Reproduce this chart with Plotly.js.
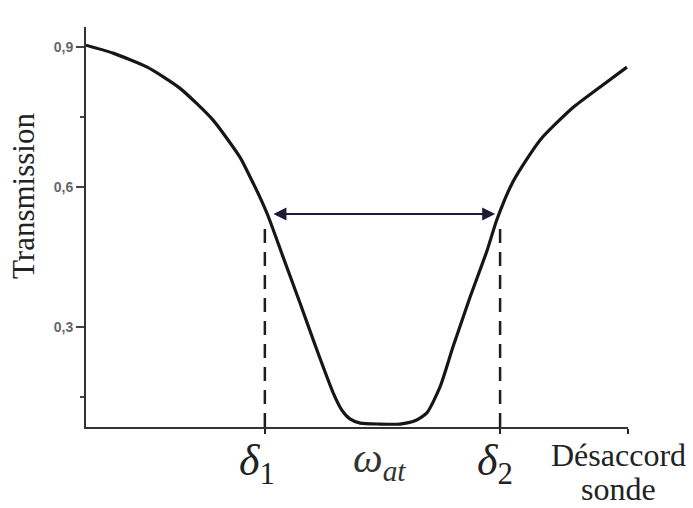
<!DOCTYPE html>
<html>
<head>
<meta charset="utf-8">
<script src="https://cdn.plot.ly/plotly-3.0.1.min.js"></script>
<style>
  body { margin: 0; background: #fff; }
  #chart { width: 693px; height: 508px; }
</style>
</head>
<body>
<div id="chart"></div>
<script>
// probe detuning (arbitrary units) and measured transmission
const detuning = [0, 5.0, 11.3, 17.3, 23.4, 28.4, 30.3, 32.1, 33.6, 36.3, 39.5, 42.4, 45.6, 47.2, 48.7,
  50.6, 54.2, 57.9, 60.7, 62.9, 65.3, 67.7, 70.8, 74.0, 75.8, 78.8, 83.8, 89.9, 94.8, 99.8];
const transmission = [0.904, 0.887, 0.857, 0.812, 0.744, 0.664, 0.621, 0.578, 0.538, 0.452, 0.351, 0.257, 0.159, 0.122, 0.103,
  0.094, 0.092, 0.092, 0.099, 0.116, 0.171, 0.257, 0.362, 0.464, 0.530, 0.612, 0.701, 0.771, 0.814, 0.857];

// half-width markers and the resonance
const markerNames = ['δ', 'δ'];
const markerSubs = ['1', '2'];
const markerX = [33.0, 76.4];
const markerTop = 0.523;
const resonanceX = 54.2;
const arrowY = 0.542;
const arrowEnds = [34.3, 75.5];

const yTickVals = [0.3, 0.6, 0.9];
const yTickText = ['0,3', '0,6', '0,9'];
const yMinorVals = [0.15, 0.75];

const yMin = 0.0857, yMax = 0.943;

const trace = {
  x: detuning,
  y: transmission,
  type: 'scatter',
  mode: 'lines',
  line: { color: '#161616', width: 3.2, shape: 'spline', smoothing: 0.6 },
  hoverinfo: 'skip'
};

const shapes = markerX.map(x => ({
  type: 'line', xref: 'x', yref: 'y',
  x0: x, x1: x, y0: yMin, y1: markerTop,
  line: { color: '#1e1e1e', width: 2.5, dash: '14px,9px' }
}));

const serif = 'Liberation Serif, Times New Roman, serif';
const label = (x, y, text, size, color) => ({
  x: x, y: y, xref: 'x', yref: 'paper', xanchor: 'center', yanchor: 'middle',
  text: text, showarrow: false, font: { family: serif, size: size, color: color }
});
const annotations = [
  {
    x: arrowEnds[1], y: arrowY, ax: arrowEnds[0], ay: arrowY,
    xref: 'x', yref: 'y', axref: 'x', ayref: 'y',
    text: '', showarrow: true, arrowside: 'end+start',
    arrowhead: 2, arrowsize: 1.3, arrowwidth: 2, arrowcolor: '#1b1b36'
  },
  {
    x: -0.114, y: 0.578, xref: 'paper', yref: 'paper', xanchor: 'center', yanchor: 'middle',
    textangle: -90, text: 'Transmission', showarrow: false,
    font: { family: serif, size: 31, color: '#222' }
  },
  label(markerX[0] - 1.5, -0.09, '<i>' + markerNames[0] + '</i><sub>' + markerSubs[0] + '</sub>', 44, '#222'),
  label(markerX[1] - 0.9, -0.09, '<i>' + markerNames[1] + '</i><sub>' + markerSubs[1] + '</sub>', 44, '#222'),
  label(resonanceX, -0.085, '<i>ω</i><sub><i>at</i></sub>', 42, '#333'),
  label(98.3, -0.07, 'Désaccord', 32, '#222'),
  label(98.3, -0.155, 'sonde', 32, '#222')
];

const layout = {
  width: 693,
  height: 508,
  margin: { l: 86, r: 65, t: 27, b: 81 },
  paper_bgcolor: '#ffffff',
  plot_bgcolor: '#ffffff',
  showlegend: false,
  xaxis: {
    range: [0, 100],
    showgrid: false, zeroline: false,
    showline: true, linecolor: '#333', linewidth: 2,
    ticks: 'outside', tickvals: [markerX[0], markerX[1], 100], ticklen: 5, tickwidth: 2.5, tickcolor: '#222',
    showticklabels: false
  },
  yaxis: {
    range: [yMin, yMax],
    showgrid: false, zeroline: false,
    showline: true, linecolor: '#333', linewidth: 2,
    ticks: 'outside', tickvals: yTickVals, ticktext: yTickText,
    ticklen: 8, tickwidth: 2, tickcolor: '#444',
    tickfont: { family: 'Liberation Sans, Arial, sans-serif', size: 14, color: '#666', weight: 'bold' },
    minor: { tickvals: yMinorVals, ticks: 'outside', ticklen: 4, tickwidth: 2, tickcolor: '#444', showgrid: false }
  },
  shapes: shapes,
  annotations: annotations
};

Plotly.newPlot('chart', [trace], layout, { staticPlot: true, displayModeBar: false });
</script>
</body>
</html>
